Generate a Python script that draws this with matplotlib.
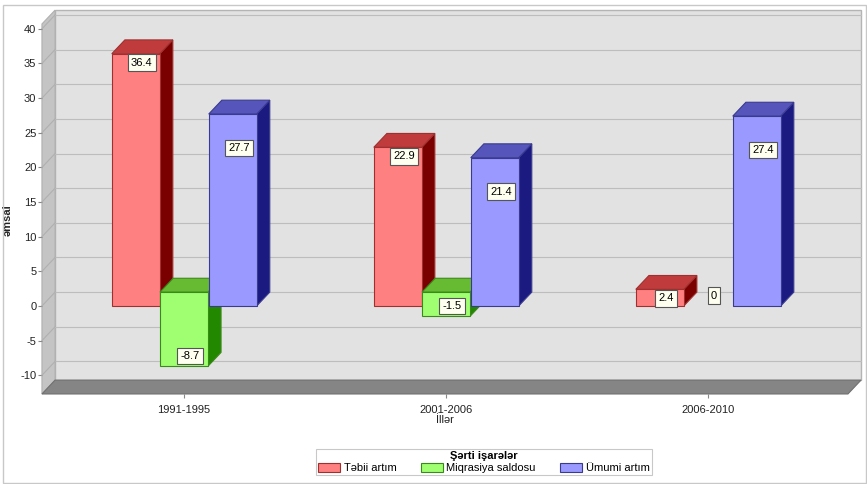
import matplotlib.pyplot as plt
from matplotlib.patches import Polygon, Rectangle, Patch

plt.rcParams['font.family'] = ['Liberation Sans', 'DejaVu Sans']
plt.rcParams['axes.unicode_minus'] = False

# data
periods = ["1991-1995", "2001-2006", "2006-2010"]
tebii = [36.4, 22.9, 2.4]
miqrasiya = [-8.7, -1.5, 0]
umumi = [27.7, 21.4, 27.4]
series_names = ["Təbii artım", "Miqrasiya saldosu", "Ümumi artım"]
yticks = [-10, -5, 0, 5, 10, 15, 20, 25, 30, 35, 40]

# colours: front, top, side
colors = [("#ff8080", "#c03c3c", "#7a0000"),
          ("#a0ff70", "#66bb33", "#228800"),
          ("#9999ff", "#5555bb", "#1a1a80")]
edges = ["#a03030", "#3a8a1a", "#3a3a90"]

dx, dy = 0.05, 2.0          # 3d depth in data units
width = 0.183
offsets = [-0.184, 0.0, 0.186]
x0, x1 = -0.542, 2.534
y0, y1 = -12.7, 40.7

fig = plt.figure(figsize=(8.67, 4.84), dpi=100)
ax = fig.add_axes([0.0484, 0.186, 0.9296, 0.7645])
ax.set_xlim(x0, x1)
ax.set_ylim(y0, y1)

# back wall
ax.add_patch(Polygon([(x0 + dx, y0 + dy), (x1 + dx, y0 + dy), (x1 + dx, y1 + dy), (x0 + dx, y1 + dy)],
                     closed=True, facecolor="#e2e2e2", edgecolor="#b4b4b4", lw=1, clip_on=False, zorder=1))
# left wall
ax.add_patch(Polygon([(x0, y0), (x0 + dx, y0 + dy), (x0 + dx, y1 + dy), (x0, y1)],
                     closed=True, facecolor="#c4c4c4", edgecolor="#b0b0b0", lw=0.8, clip_on=False, zorder=1))
# gridlines
for v in yticks:
    ax.plot([x0 + dx, x1 + dx], [v + dy, v + dy], color="#bdbdbd", lw=0.8, clip_on=False, zorder=2)
    ax.plot([x0, x0 + dx], [v, v + dy], color="#b0b0b0", lw=0.8, clip_on=False, zorder=2)
# floor
ax.add_patch(Polygon([(x0, y0), (x1, y0), (x1 + dx, y0 + dy), (x0 + dx, y0 + dy)],
                     closed=True, facecolor="#858585", edgecolor="#707070", lw=0.8, clip_on=False, zorder=3))


def bar3d(xl, val, cols, ec, z):
    if val == 0:
        return
    if val > 0:
        bot, top = 0, val
    else:
        bot, top = val, dy
    xr = xl + width
    front = [(xl, bot), (xr, bot), (xr, top), (xl, top)]
    topf = [(xl, top), (xr, top), (xr + dx, top + dy), (xl + dx, top + dy)]
    side = [(xr, bot), (xr + dx, bot + dy), (xr + dx, top + dy), (xr, top)]
    for pts, c in [(side, cols[2]), (topf, cols[1]), (front, cols[0])]:
        ax.add_patch(Polygon(pts, closed=True, facecolor=c, edgecolor=ec, lw=0.8,
                             clip_on=False, zorder=z))


series = [tebii, miqrasiya, umumi]
for i in range(len(periods)):
    for s, vals in enumerate(series):
        bar3d(i + offsets[s] - width / 2, vals[i], colors[s], edges[s], 4 + i * 3 + s)

# value labels
label_shift = [-1.3, 1.5, -4.9]
box = dict(boxstyle="square,pad=0.3", facecolor="#fffff0", edgecolor="#555555", lw=0.8)
for i in range(len(periods)):
    for s, vals in enumerate(series):
        v = vals[i]
        if s == 1:
            ly = min(v, 0) + label_shift[s]
        else:
            ly = v + label_shift[s]
        ax.text(i + offsets[s] + 0.023, ly, f"{v:g}", ha="center", va="center",
                fontsize=8, bbox=box, zorder=30)

ax.set_xticks(range(len(periods)))
ax.set_xticklabels(periods)
ax.set_yticks(yticks)
ax.tick_params(axis="both", length=3, color="#888888", labelsize=8, labelcolor="#222222")
ax.tick_params(axis="x", pad=5)
ax.tick_params(axis="y", pad=1)
for sp in ax.spines.values():
    sp.set_visible(False)
ax.set_xlabel("İllər", fontsize=8, labelpad=0, color="#222222")
ax.set_ylabel("əmsal", fontsize=8, fontweight="bold", color="#222222")
ax.yaxis.set_label_coords(-0.037, 0.47)

handles = [Patch(facecolor=c[0], edgecolor=e, lw=0.8) for c, e in zip(colors, edges)]
leg = fig.legend(handles, series_names, loc="center", bbox_to_anchor=(0.558, 0.045), ncol=3,
                 title="Şərti işarələr", title_fontproperties={"weight": "bold", "size": 8},
                 fontsize=8, frameon=True, fancybox=False, edgecolor="#bbbbbb",
                 handlelength=2.0, handleheight=0.9, handletextpad=0.3, columnspacing=2.2,
                 borderpad=0.2, labelspacing=0.1, borderaxespad=0)
leg.get_frame().set_linewidth(0.8)

# outer frame
fig.add_artist(Rectangle((3 / 867, 1 / 484), 863 / 867, 478 / 484, transform=fig.transFigure,
                         fill=False, edgecolor="#c8c8c8", lw=1))

fig.savefig("out.png", dpi=100)
